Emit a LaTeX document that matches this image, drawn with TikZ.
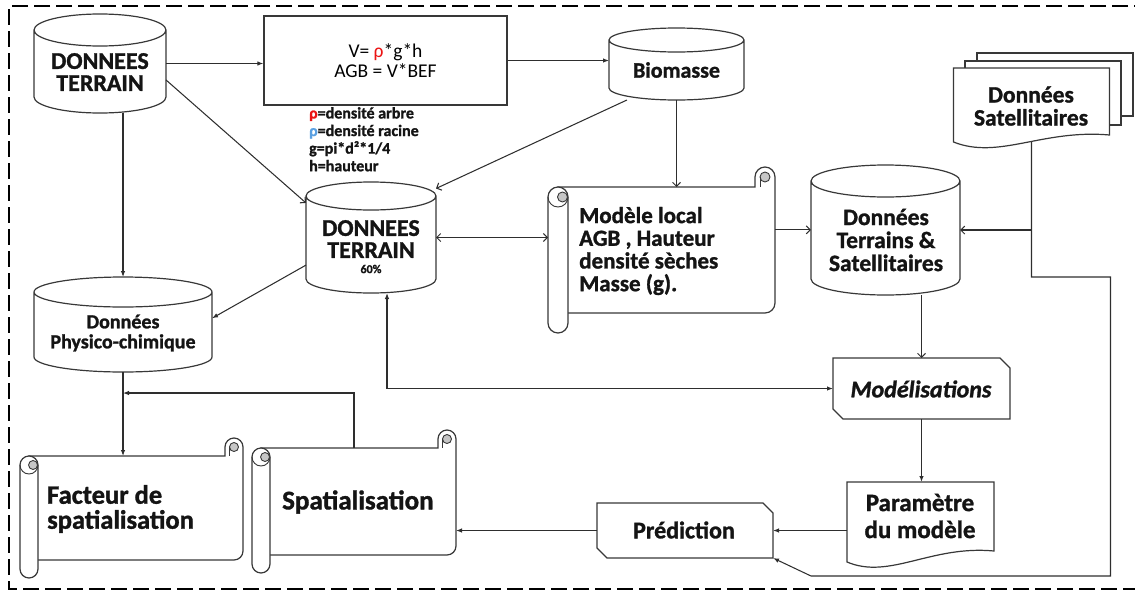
\documentclass[tikz,border=0pt]{standalone}
\usepackage{fontspec}
\setmainfont{Carlito}[BoldFeatures={FakeBold=1.2},BoldItalicFeatures={FakeBold=1.2}]
\usetikzlibrary{arrows.meta,calc}
\definecolor{rhored}{RGB}{235,20,20}
\definecolor{rhoblue}{RGB}{90,160,225}
\tikzset{
  sbox/.style={rectangle,inner sep=0pt,outer sep=0pt,draw=none},
  shp/.style={draw=black!78,line width=1.2pt,fill=white},
  ln/.style={draw=black!82,line width=1.05pt},
  fa/.style={-{Latex[length=6pt,width=4.5pt]}},
  fab/.style={{Latex[length=6pt,width=4.5pt]}-{Latex[length=6pt,width=4.5pt]}},
  oa/.style={-{Straight Barb[length=4pt,width=8pt]}},
  oaa/.style={{Straight Barb[length=4pt,width=8pt]}-{Straight Barb[length=4pt,width=8pt]}},
  lbl/.style={inner sep=0pt,align=center,text=black!92,font=\bfseries},
}
\newcommand\cylshape[2]{%
  \draw[shp] let \p1=(#1.north west), \p2=(#1.south east), \n1={(\x2-\x1)/2} in
  (\x1,\y1-#2) -- (\x1,\y2+#2) arc[start angle=180,end angle=360,x radius={\n1*1pt},y radius=#2]
  -- (\x2,\y1-#2) arc[start angle=0,end angle=180,x radius={\n1*1pt},y radius=#2] -- cycle
  (\x1,\y1-#2) arc[start angle=180,end angle=360,x radius={\n1*1pt},y radius=#2];}
\newcommand\scrollshape[2]{%
  \draw[shp] let \p1=(#1.north west), \p2=(#1.south east) in
  (\x1+#2,\y1) -- (\x2-2*#2,\y1) -- (\x2-2*#2,\y1+#2) arc[start angle=180,end angle=0,radius=#2]
  -- (\x2,\y2+#2) arc[start angle=0,end angle=-90,radius=#2] -- (\x1+#2,\y2) -- cycle;
  \draw[shp,fill=gray!45,line width=0.9pt] let \p2=(#1.north east) in (\x2-#2,\y2+#2) circle[radius={0.5*#2}];
  \draw[draw=black!78,line width=0.9pt] let \p2=(#1.north east) in (\x2-1.5*#2,\y2+#2) -- (\x2-1.5*#2,\y2);
  \draw[shp] let \p1=(#1.north west), \p2=(#1.south west) in
  (\x1,\y1-#2) -- (\x1,\y2-#2) arc[start angle=180,end angle=360,radius=#2]
  -- (\x1+2*#2,\y1-#2) arc[start angle=0,end angle=180,radius=#2] -- cycle;
  \draw[draw=black!78,line width=0.9pt] let \p1=(#1.north west) in
  (\x1,\y1-#2) arc[start angle=180,end angle=360,radius=#2];
  \draw[shp,fill=gray!45,line width=0.9pt] let \p1=(#1.north west) in (\x1+1.45*#2,\y1-#2) circle[radius={0.5*#2}];}
\newcommand\chamfshape[2]{%
  \draw[shp] (#1.north west) -- ([xshift=-#2]#1.north east) -- ([yshift=-#2]#1.north east)
  -- (#1.south east) -- ([xshift=#2]#1.south west) -- ([yshift=#2]#1.south west) -- cycle;}
\newcommand\docshape[2]{%
  \draw[shp] let \p1=(#1.north west), \p2=(#1.south east), \n1={\x2-\x1} in
  (\x1,\y1) -- (\x2,\y1) -- (\x2,\y2+#2)
  .. controls (\x2-0.43*\n1,\y2+#2+6pt) and (\x1+0.29*\n1,\y2-18pt) .. (\x1,\y2) -- cycle;}
\begin{document}
\begin{tikzpicture}[x=1pt,y=-1pt]
\useasboundingbox (0,0) rectangle (1135,592);
% frame
\draw[line width=2pt,dash pattern=on 16pt off 6pt] (1150,6) -- (9,6) -- (9,589) -- (1150,589);

% shape boxes
\node[sbox,minimum width=132pt,minimum height=99pt] (A) at (100,63.5) {};
\node[sbox,minimum width=135pt,minimum height=72pt] (Bio) at (676.5,64) {};
\node[sbox,minimum width=130pt,minimum height=111pt] (B) at (371,237.5) {};
\node[sbox,minimum width=227pt,minimum height=126pt] (M) at (661.5,250) {};
\node[sbox,minimum width=149pt,minimum height=130pt] (DTS) at (885.5,230) {};
\node[sbox,minimum width=156pt,minimum height=74pt] (Sat) at (1031.5,105) {};
\node[sbox,minimum width=178pt,minimum height=95pt] (Phy) at (123,324.5) {};
\node[sbox,minimum width=177pt,minimum height=61pt] (Mod) at (921.5,388.5) {};
\node[sbox,minimum width=147pt,minimum height=80pt] (Par) at (920.5,522) {};
\node[sbox,minimum width=176pt,minimum height=55pt] (Pre) at (685,530.5) {};
\node[sbox,minimum width=223pt,minimum height=104pt] (Fac) at (131.5,508) {};
\node[sbox,minimum width=204pt,minimum height=107pt] (Spa) at (354,501.5) {};

% shapes
\cylshape{A}{16pt}
\cylshape{Bio}{12pt}
\cylshape{B}{14pt}
\cylshape{DTS}{16pt}
\cylshape{Phy}{15pt}
\scrollshape{M}{10pt}
\scrollshape{Fac}{9pt}
\scrollshape{Spa}{9pt}
\chamfshape{Mod}{10pt}
\chamfshape{Pre}{10pt}
\docshape{Par}{11pt}
\draw[shp] (977,53) rectangle (1133,116);
\draw[shp] (965,61) rectangle (1121,125);
\docshape{Sat}{7pt}

\node[shp,minimum width=243pt,minimum height=89pt,inner sep=0pt,align=center,
  font=\fontsize{19.5}{20}\selectfont] (F) at (385.5,60.5)
  {V= \textcolor{rhored}{ρ}*g*h\\AGB = V*BEF};

% texts
\node[lbl,font=\bfseries\fontsize{24}{22}\selectfont] (tA) at (100,72) {DONNEES\\TERRAIN};
\node[lbl,anchor=north west,align=left,font=\bfseries\fontsize{16}{17.6}\selectfont] (leg) at (309,107)
  {\textcolor{rhored}{ρ}=densité arbre\\\textcolor{rhoblue}{ρ}=densité racine\\g=pi*d²*1/4\\h=hauteur};
\node[lbl,font=\bfseries\fontsize{22}{22}\selectfont] (tBio) at (676.5,70) {Biomasse};
\node[lbl,font=\bfseries\fontsize{24}{22}\selectfont] (tB) at (371,239) {DONNEES\\TERRAIN};
\node[lbl,font=\bfseries\fontsize{12}{13}\selectfont] (tB60) at (371,269) {60\%};
\node[lbl,anchor=west,align=left,font=\bfseries\fontsize{23}{22.7}\selectfont] (tM) at (579,251)
  {Modèle local\\AGB , Hauteur\\densité sèches\\Masse (g).};
\node[lbl,font=\bfseries\fontsize{23.5}{23}\selectfont] (tDTS) at (886,240) {Données\\Terrains \&\\Satellitaires};
\node[lbl,font=\bfseries\fontsize{23.5}{23}\selectfont] (tSat) at (1031,106) {Données\\Satellitaires};
\node[lbl,font=\bfseries\fontsize{20}{20}\selectfont] (tPhy) at (123,333) {Données\\Physico-chimique};
\node[lbl,font=\bfseries\itshape\fontsize{24}{24}\selectfont] (tMod) at (921,389) {Modélisations};
\node[lbl,font=\bfseries\fontsize{25}{27}\selectfont] (tPar) at (920,516) {Paramètre\\du modèle};
\node[lbl,font=\bfseries\fontsize{24}{24}\selectfont] (tPre) at (684,530) {Prédiction};
\node[lbl,anchor=west,align=left,font=\bfseries\fontsize{26.5}{25}\selectfont] (tFac) at (47,509) {Facteur de\\spatialisation};
\node[lbl,anchor=west,font=\bfseries\fontsize{27}{27}\selectfont] (tSpa) at (282,502) {Spatialisation};

% connectors
\draw[ln,fa] (A.east) -- (A.east -| F.west);
\draw[ln,fa] (F.east) -- (F.east -| Bio.west);
\draw[ln,oa] (A.-14) -- (B.152);
\draw[ln,oa] (Bio.216) -- (B.37);
\draw[ln,oa] (Bio.south) -- (Bio.south |- M.north);
\draw[ln,oaa] (B.east) -- (B.east -| M.west);
\coordinate (m1) at ($(M.north east)!0.34!(M.south east)$);
\draw[ln,oa] (m1) -- (m1 -| DTS.west);
\draw[ln,oa] (Sat.south |- DTS.east) -- (DTS.east);
\coordinate (k1) at (1110.5,277);
\coordinate (k2) at (811,576);
\draw[ln,fa] (Sat.south) |- (k1) |- (k2) -- (Pre.south east);
\draw[ln,oa] (Mod.north |- DTS.south) -- (Mod.north);
\draw[ln,fa,line width=1.6pt] (Mod.south) -- (Mod.south |- Par.north);
\draw[ln,fa] (Par.west |- Pre.east) -- (Pre.east);
\draw[ln,fa] (Pre.west) -- (Pre.west -| Spa.east);
\draw[ln,fab] (Mod.west) -| ([xshift=16pt]B.south);
\draw[ln,fa] (B.203) -- (Phy.4);
\draw[ln,fa] (Phy.north |- A.south) -- (Phy.north);
\draw[ln,fa] (Phy.south) -- (Phy.south |- Fac.north);
\coordinate (jn) at ($(Phy.south)!0.25!(Phy.south |- Fac.north)$);
\draw[ln,fa] (Spa.north) |- (jn);
\end{tikzpicture}
\end{document}
